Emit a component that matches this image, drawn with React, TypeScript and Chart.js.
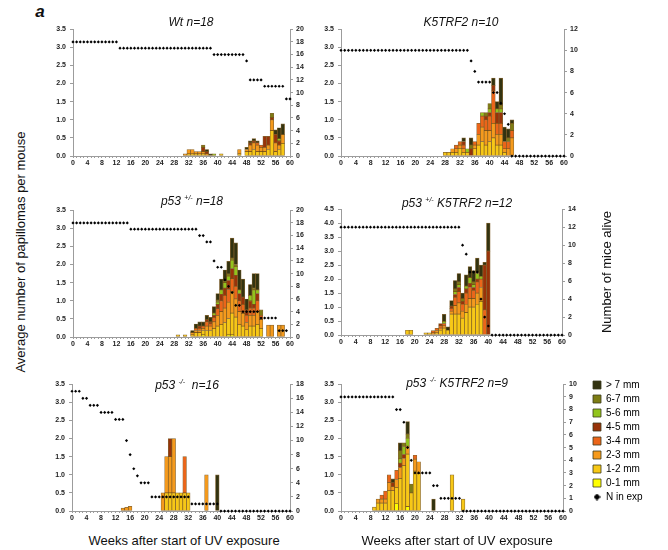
import React, { useEffect, useRef } from "react";
import { Chart, registerables } from "chart.js";

Chart.register(...registerables);
Chart.defaults.font.family = "Arial, 'Liberation Sans', sans-serif";

// ---------- shared categories ----------
const SIZE_CLASSES = ["0-1 mm", "1-2 mm", "2-3 mm", "3-4 mm", "4-5 mm", "5-6 mm", "6-7 mm", "> 7 mm"];
const SIZE_COLORS = ["#ffff00", "#f7c816", "#f59a1c", "#ec6519", "#983309", "#92c41c", "#7d7d14", "#333310"];
const ALIVE_LABEL = "N in exp";
const X_TICK_LABELS = [0, 4, 8, 12, 16, 20, 24, 28, 32, 36, 40, 44, 48, 52, 56, 60];

// ---------- Wt n=18 ----------
// [week, 0-1, 1-2, 2-3, 3-4, 4-5, 5-6, 6-7, >7]
const WT_BARS = [
  [31, 0, 0, 0.06, 0, 0, 0, 0, 0],
  [32, 0, 0.06, 0.12, 0, 0, 0, 0, 0],
  [33, 0, 0.06, 0.12, 0, 0, 0, 0, 0],
  [34, 0, 0.06, 0.06, 0, 0, 0, 0, 0],
  [35, 0, 0.06, 0.06, 0, 0, 0, 0, 0],
  [36, 0, 0.06, 0.06, 0, 0.12, 0, 0.06, 0],
  [37, 0, 0, 0.06, 0, 0.06, 0, 0, 0.06],
  [38, 0, 0, 0, 0, 0, 0, 0, 0.06],
  [39, 0, 0, 0, 0, 0, 0.06, 0, 0],
  [41, 0, 0.06, 0, 0, 0, 0, 0, 0],
  [46, 0, 0.06, 0.12, 0, 0, 0, 0, 0],
  [48, 0, 0.12, 0.06, 0, 0, 0, 0, 0.06],
  [49, 0, 0.12, 0.18, 0, 0.06, 0, 0, 0.06],
  [50, 0, 0.18, 0.18, 0, 0.06, 0, 0, 0.06],
  [51, 0, 0.12, 0.18, 0.06, 0, 0, 0, 0.06],
  [52, 0, 0.12, 0.12, 0.06, 0, 0, 0, 0],
  [53, 0, 0.12, 0.12, 0, 0.3, 0, 0, 0],
  [54, 0, 0.18, 0.12, 0, 0.24, 0, 0, 0],
  [55, 0, 0.7, 0.3, 0, 0.06, 0, 0.12, 0],
  [56, 0, 0.12, 0.24, 0, 0.24, 0, 0, 0.12],
  [57, 0, 0.18, 0.12, 0, 0.12, 0.06, 0, 0.3],
  [58, 0, 0.35, 0.24, 0, 0, 0, 0, 0.3],
];
// mice alive, week 0 onwards
const WT_ALIVE = [
  18, 18, 18, 18, 18, 18, 18, 18, 18, 18, 18, 18, 18,
  17, 17, 17, 17, 17, 17, 17, 17, 17, 17, 17, 17, 17, 17, 17, 17, 17, 17, 17, 17, 17, 17, 17, 17, 17, 17,
  16, 16, 16, 16, 16, 16, 16, 16, 16,
  15, 12, 12, 12, 12, 11, 11, 11, 11, 11, 11, 9, 9,
];

// ---------- K5TRF2 n=10 ----------
const K5_BARS = [
  [28, 0, 0.1, 0, 0, 0, 0, 0, 0],
  [29, 0, 0.1, 0, 0, 0, 0, 0, 0],
  [30, 0, 0.1, 0.1, 0, 0, 0, 0, 0],
  [31, 0, 0.1, 0.1, 0.1, 0, 0, 0, 0],
  [32, 0, 0.2, 0.1, 0.1, 0, 0, 0, 0],
  [33, 0, 0.1, 0.1, 0.1, 0.1, 0, 0, 0.1],
  [34, 0, 0.1, 0, 0, 0, 0.1, 0, 0],
  [35, 0, 0, 0, 0, 0.2, 0, 0.1, 0.2],
  [36, 0, 0.2, 0.1, 0.1, 0, 0, 0, 0],
  [37, 0, 0.3, 0.3, 0.3, 0, 0, 0, 0],
  [38, 0, 0.4, 0.4, 0.3, 0, 0.1, 0, 0],
  [39, 0, 0.3, 0.4, 0.3, 0.1, 0, 0.1, 0],
  [40, 0, 0.4, 0.3, 0.4, 0.1, 0.1, 0.15, 0],
  [41, 0, 0.5, 0.4, 0.9, 0.15, 0, 0, 0.2],
  [42, 0, 0.3, 0.3, 0.3, 0.3, 0.1, 0, 0.2],
  [43, 0, 0.3, 0.3, 0.3, 0.3, 0.1, 0.1, 0.75],
  [44, 0, 0.1, 0.1, 0.2, 0, 0, 0, 0.4],
  [45, 0, 0, 0.2, 0.2, 0, 0, 0.1, 0.25],
  [46, 0, 0, 0.5, 0.2, 0, 0, 0.2, 0.1],
];
const K5_ALIVE = [
  10, 10, 10, 10, 10, 10, 10, 10, 10, 10, 10, 10, 10, 10, 10, 10, 10, 10, 10, 10,
  10, 10, 10, 10, 10, 10, 10, 10, 10, 10, 10, 10, 10, 10, 10,
  9, 8, 7, 7, 7, 7, 6, 6, 5, 4, 3,
  0, 0, 0, 0, 0, 0, 0, 0, 0, 0, 0, 0, 0, 0, 0,
];

// ---------- p53 +/- n=18 ----------
const P53HET_BARS = [
  [29, 0, 0.06, 0, 0, 0, 0, 0, 0],
  [31, 0, 0.06, 0, 0, 0, 0, 0, 0],
  [33, 0, 0.06, 0.06, 0, 0, 0, 0, 0.06],
  [34, 0, 0.12, 0.06, 0.06, 0, 0, 0, 0.12],
  [35, 0, 0.12, 0.06, 0.06, 0.06, 0, 0, 0.12],
  [36, 0.06, 0.12, 0.06, 0.06, 0, 0, 0, 0.12],
  [37, 0, 0.18, 0.12, 0.12, 0.06, 0, 0, 0.12],
  [38, 0, 0.18, 0.12, 0.06, 0.06, 0, 0, 0.12],
  [39, 0, 0.24, 0.18, 0.12, 0.06, 0.06, 0, 0.18],
  [40, 0, 0.3, 0.3, 0.18, 0.12, 0.06, 0.06, 0.18],
  [41, 0, 0.35, 0.35, 0.3, 0.18, 0.12, 0, 0.3],
  [42, 0, 0.4, 0.4, 0.35, 0.2, 0.15, 0.05, 0.3],
  [43, 0.06, 0.45, 0.45, 0.35, 0.25, 0.12, 0.06, 0.35],
  [44, 0.06, 0.6, 0.6, 0.35, 0.28, 0.23, 0.06, 0.55],
  [45, 0, 0.55, 0.5, 0.35, 0.3, 0.25, 0.05, 0.6],
  [46, 0, 0.35, 0.35, 0.3, 0.2, 0.1, 0, 0.55],
  [47, 0, 0.3, 0.35, 0.25, 0.2, 0, 0, 0.5],
  [48, 0, 0.2, 0.2, 0.2, 0.15, 0, 0, 0.3],
  [49, 0, 0.3, 0.3, 0.2, 0.2, 0.15, 0, 0.3],
  [50, 0, 0.3, 0.3, 0.2, 0.1, 0.4, 0.05, 0.4],
  [51, 0, 0.35, 0.35, 0.3, 0.2, 0.1, 0, 0.45],
  [52, 0, 0.24, 0.24, 0.12, 0, 0, 0.15, 0],
  [54, 0, 0, 0.33, 0, 0, 0, 0, 0],
  [55, 0, 0, 0.33, 0, 0, 0, 0, 0],
  [57, 0, 0, 0.33, 0, 0, 0, 0, 0],
  [58, 0, 0, 0.33, 0, 0, 0, 0, 0],
];
const P53HET_ALIVE = [
  18, 18, 18, 18, 18, 18, 18, 18, 18, 18, 18, 18, 18, 18, 18, 18,
  17, 17, 17, 17, 17, 17, 17, 17, 17, 17, 17, 17, 17, 17, 17, 17, 17, 17, 17,
  16, 16, 15, 15, 12, 11, 11, 9, 8, 7, 5, 5,
  4, 4, 4, 4, 4, 3, 3, 3, 3, 3, 1, 1, 1,
];

// ---------- p53 +/- K5TRF2 n=12 ----------
const P53HET_K5_BARS = [
  [18, 0, 0.17, 0, 0, 0, 0, 0, 0],
  [19, 0, 0.17, 0, 0, 0, 0, 0, 0],
  [23, 0, 0.08, 0, 0, 0, 0, 0, 0],
  [24, 0, 0.08, 0, 0, 0, 0, 0, 0],
  [25, 0, 0, 0.08, 0.08, 0, 0, 0, 0],
  [26, 0, 0.08, 0.08, 0.08, 0, 0, 0, 0],
  [27, 0, 0.17, 0.08, 0.08, 0.08, 0, 0, 0],
  [28, 0, 0.25, 0.08, 0.08, 0, 0.08, 0, 0.25],
  [29, 0, 0.17, 0, 0, 0, 0, 0, 0.12],
  [30, 0, 0.75, 0.1, 0.1, 0.08, 0, 0, 0.2],
  [31, 0, 0.75, 0.3, 0.3, 0.1, 0.1, 0.1, 0.3],
  [32, 0, 0.75, 0.4, 0.4, 0.15, 0.1, 0.1, 0.3],
  [33, 0, 0.6, 0.25, 0.25, 0.1, 0, 0.1, 0.2],
  [34, 0, 0.8, 0.3, 0.4, 0.15, 0.1, 0, 0.4],
  [35, 0, 1.0, 0.3, 0.4, 0.15, 0.2, 0, 0.4],
  [36, 0, 1.0, 0.3, 0.3, 0.1, 0.1, 0.1, 0.4],
  [37, 0, 1.1, 0.4, 0.4, 0.1, 0.2, 0.05, 0.5],
  [38, 0, 1.2, 0.5, 0.3, 0, 0.1, 0, 0.4],
  [39, 0, 0, 0, 0.9, 1.6, 0, 0, 0.1],
  [40, 0, 0, 0, 0, 3.0, 0, 0, 1.0],
];
const P53HET_K5_ALIVE = [
  12, 12, 12, 12, 12, 12, 12, 12, 12, 12, 12, 12, 12, 12, 12, 12, 12,
  12, 12, 12, 12, 12, 12, 12, 12, 12, 12, 12, 12, 12, 12, 12, 12,
  10, 9, 7, 7, 7, 4, 2, 1,
  0, 0, 0, 0, 0, 0, 0, 0, 0, 0, 0, 0, 0, 0, 0, 0, 0, 0, 0, 0,
];

// ---------- p53 -/- n=16 ----------
const P53NULL_BARS = [
  [14, 0, 0, 0.08, 0, 0, 0, 0, 0],
  [15, 0, 0, 0.1, 0, 0, 0, 0, 0],
  [16, 0, 0, 0.13, 0, 0, 0, 0, 0],
  [25, 0, 0, 0.5, 0, 0, 0, 0, 0],
  [26, 0, 0.5, 1.0, 0, 0, 0, 0, 0],
  [27, 0, 0.5, 1.0, 0, 0.5, 0, 0, 0],
  [28, 0, 0.5, 1.5, 0, 0, 0, 0, 0],
  [29, 0, 0.5, 0, 0, 0, 0, 0, 0],
  [30, 0, 0.5, 0, 0, 0, 0, 0, 0],
  [31, 0, 0.5, 0, 1.0, 0, 0, 0, 0],
  [32, 0, 0.5, 0, 0, 0, 0, 0, 0],
  [37, 0, 0, 1.0, 0, 0, 0, 0, 0],
  [40, 0, 0, 0, 0, 0, 0, 0, 1.0],
];
const P53NULL_ALIVE = [
  17, 17, 17, 16, 16, 15, 15, 15, 14, 14, 14, 14, 13, 13, 13,
  10, 8, 6, 5, 4, 4, 4,
  2, 2, 2, 2, 2, 2, 2, 2, 2, 2, 2,
  1, 1, 1, 1, 1, 1, 1, 1,
  0, 0, 0, 0, 0, 0, 0, 0, 0, 0, 0, 0, 0, 0, 0, 0, 0, 0, 0, 0,
];

// ---------- p53 -/- K5TRF2 n=9 ----------
const P53NULL_K5_BARS = [
  [9, 0, 0.11, 0, 0, 0, 0, 0, 0],
  [10, 0, 0.22, 0.11, 0, 0, 0, 0, 0],
  [11, 0, 0.22, 0.11, 0.11, 0, 0, 0, 0],
  [12, 0, 0.22, 0.11, 0.22, 0, 0, 0, 0],
  [13, 0, 0.56, 0.22, 0.22, 0, 0, 0, 0],
  [14, 0, 0.56, 0.11, 0, 0.11, 0, 0, 0.11],
  [15, 0.2, 0.45, 0.22, 0.25, 0, 0, 0, 0],
  [16, 0, 0.9, 0.3, 0, 0.12, 0.12, 0.22, 0.22],
  [17, 0, 1.25, 0.2, 0, 0.11, 0.22, 0.1, 0],
  [18, 0.12, 1.45, 0.22, 0, 0, 0.22, 0.11, 0.35],
  [19, 0, 0.5, 0, 0, 0, 0, 0.24, 0],
  [20, 0, 1.1, 0.33, 0.11, 0, 0, 0, 0],
  [21, 0, 1.03, 0.33, 0, 0, 0, 0, 0],
  [25, 0, 0, 0, 0, 0, 0, 0, 0.33],
  [30, 0, 1.0, 0, 0, 0, 0, 0, 0],
  [33, 0, 0.33, 0, 0, 0, 0, 0, 0],
];
const P53NULL_K5_ALIVE = [
  9, 9, 9, 9, 9, 9, 9, 9, 9, 9, 9, 9, 9, 9, 9,
  8, 8, 7, 5, 4, 3, 3, 3, 3, 3, 2, 2,
  1, 1, 1, 1, 1, 1,
  0, 0, 0, 0, 0, 0, 0, 0, 0, 0, 0, 0, 0, 0, 0, 0, 0, 0, 0, 0, 0, 0, 0, 0, 0, 0, 0, 0,
];

// ---------- layout / style (not data) ----------
type Area = { l: number; r: number; t: number; b: number };
type PanelCfg = {
  bars: number[][];
  alive: number[];
  yMax: number;
  nMax: number;
  nStep: number;
  area: Area;
};

const PANELS: PanelCfg[] = [
  { bars: WT_BARS, alive: WT_ALIVE, yMax: 3.5, nMax: 20, nStep: 2, area: { l: 73, r: 290, t: 29, b: 156 } },
  { bars: K5_BARS, alive: K5_ALIVE, yMax: 3.5, nMax: 12, nStep: 1, area: { l: 341, r: 564, t: 29, b: 156 } },
  { bars: P53HET_BARS, alive: P53HET_ALIVE, yMax: 3.5, nMax: 20, nStep: 2, area: { l: 73, r: 290, t: 210, b: 337 } },
  { bars: P53HET_K5_BARS, alive: P53HET_K5_ALIVE, yMax: 4.5, nMax: 14, nStep: 1, area: { l: 341, r: 562, t: 209, b: 335 } },
  { bars: P53NULL_BARS, alive: P53NULL_ALIVE, yMax: 3.5, nMax: 18, nStep: 2, area: { l: 72, r: 290, t: 384, b: 511 } },
  { bars: P53NULL_K5_BARS, alive: P53NULL_K5_ALIVE, yMax: 3.5, nMax: 10, nStep: 1, area: { l: 341, r: 563, t: 384, b: 511 } },
];

const PAD_L = 36;
const PAD_R = 26;
const PAD_T = 8;
const PAD_B = 16;
const AXIS_COLOR = "#9c9c9c";
const TICK_COLOR = "#222";
const BAR_EDGE = "rgba(105,65,0,0.8)";
const TICK_FONT = { size: 7, weight: "bold" as const };
const FONT = "Arial, 'Liberation Sans', sans-serif";

function PanelChart({ panel }: { panel: PanelCfg }) {
  const ref = useRef<HTMLCanvasElement | null>(null);
  const { l, r, t, b } = panel.area;
  const width = r - l + PAD_L + PAD_R;
  const height = b - t + PAD_T + PAD_B;

  useEffect(() => {
    const canvas = ref.current;
    if (!canvas) return;
    const barSets: any[] = SIZE_CLASSES.map((label, k) => ({
      type: "bar",
      label,
      data: panel.bars.filter((row) => row[k + 1] > 0).map((row) => ({ x: row[0], y: row[k + 1] })),
      backgroundColor: SIZE_COLORS[k],
      borderColor: BAR_EDGE,
      borderWidth: 0.7,
      borderSkipped: false,
      barPercentage: 1,
      categoryPercentage: 1,
      xAxisID: "x",
      yAxisID: "y",
      stack: "mm",
      order: 1,
    }));
    const aliveSet: any = {
      type: "line",
      label: ALIVE_LABEL,
      data: panel.alive.map((n, w) => ({ x: w, y: n })),
      showLine: false,
      pointStyle: "rectRot",
      pointRadius: 1.6,
      pointBackgroundColor: "#000",
      pointBorderColor: "#000",
      pointBorderWidth: 0,
      borderColor: "#000",
      xAxisID: "x",
      yAxisID: "y1",
      order: 0,
      clip: false,
    };
    const chart = new Chart(canvas, {
      type: "bar",
      data: { datasets: [...barSets, aliveSet] },
      options: {
        responsive: false,
        animation: false,
        events: [],
        layout: { padding: { top: PAD_T, left: 0, right: 0, bottom: 0 } },
        plugins: { legend: { display: false }, tooltip: { enabled: false } },
        scales: {
          x: {
            type: "linear",
            min: 0,
            max: 60,
            offset: false,
            stacked: true,
            ticks: {
              stepSize: 1,
              autoSkip: false,
              maxRotation: 0,
              padding: 1,
              color: TICK_COLOR,
              font: TICK_FONT,
              callback: (v: any) => (X_TICK_LABELS.includes(Number(v)) ? String(v) : ""),
            },
            grid: { display: true, drawOnChartArea: false, tickLength: 2, color: AXIS_COLOR, offset: false },
            border: { color: AXIS_COLOR, width: 1 },
            afterFit: (s: any) => {
              s.height = PAD_B;
            },
          },
          y: {
            type: "linear",
            position: "left",
            min: 0,
            max: panel.yMax,
            stacked: true,
            ticks: {
              stepSize: 0.5,
              padding: 4,
              color: TICK_COLOR,
              font: TICK_FONT,
              callback: (v: any) => Number(v).toFixed(1),
            },
            grid: { display: true, drawOnChartArea: false, tickLength: 3, color: AXIS_COLOR },
            border: { color: AXIS_COLOR, width: 1 },
            afterFit: (s: any) => {
              s.width = PAD_L;
            },
          },
          y1: {
            type: "linear",
            position: "right",
            min: 0,
            max: panel.nMax,
            ticks: {
              stepSize: panel.nStep,
              padding: 3,
              color: TICK_COLOR,
              font: TICK_FONT,
            },
            grid: { display: true, drawOnChartArea: false, tickLength: 3, color: AXIS_COLOR },
            border: { color: AXIS_COLOR, width: 1 },
            afterFit: (s: any) => {
              s.width = PAD_R;
            },
          },
        },
      } as any,
    });
    return () => chart.destroy();
  }, [panel]);

  return (
    <canvas
      ref={ref}
      width={width}
      height={height}
      style={{ position: "absolute", left: l - PAD_L, top: t - PAD_T, width, height }}
    />
  );
}

const LEGEND_W = 79;

function LegendChart() {
  const ref = useRef<HTMLCanvasElement | null>(null);
  useEffect(() => {
    const canvas = ref.current;
    if (!canvas) return;
    const diamond = document.createElement("canvas");
    diamond.width = 7;
    diamond.height = 7;
    const dc = diamond.getContext("2d");
    if (dc) {
      dc.fillStyle = "#000";
      dc.beginPath();
      dc.moveTo(3.5, 0);
      dc.lineTo(7, 3.5);
      dc.lineTo(3.5, 7);
      dc.lineTo(0, 3.5);
      dc.closePath();
      dc.fill();
    }
    const items: any[] = SIZE_CLASSES.map((text, k) => ({
      text,
      fillStyle: SIZE_COLORS[k],
      strokeStyle: "#3a3a20",
      lineWidth: 0.8,
      pointStyle: "rect",
      hidden: false,
      datasetIndex: k,
    })).reverse();
    items.push({ text: ALIVE_LABEL, fillStyle: "#000", strokeStyle: "#000", lineWidth: 0, pointStyle: diamond, hidden: false });
    const chart = new Chart(canvas, {
      type: "bar",
      data: {
        labels: [],
        datasets: SIZE_CLASSES.map((label, k) => ({ label, data: [], backgroundColor: SIZE_COLORS[k] })),
      },
      options: {
        responsive: false,
        animation: false,
        events: [],
        layout: { padding: 0 },
        scales: { x: { display: false }, y: { display: false } },
        plugins: {
          tooltip: { enabled: false },
          legend: {
            position: "left",
            align: "start",
            maxWidth: LEGEND_W,
            labels: {
              usePointStyle: true,
              boxWidth: 8,
              boxHeight: 8,
              padding: 4,
              color: "#111",
              font: { size: 10 },
              generateLabels: () => items,
            },
          },
        },
      } as any,
    });
    return () => chart.destroy();
  }, []);
  return (
    <canvas
      ref={ref}
      width={LEGEND_W}
      height={140}
      style={{ position: "absolute", left: 589, top: 376, width: LEGEND_W, height: 140 }}
    />
  );
}

const txt = (extra: React.CSSProperties): React.CSSProperties => ({
  position: "absolute",
  whiteSpace: "nowrap",
  fontFamily: FONT,
  color: "#111",
  lineHeight: 1,
  transform: "translate(-50%, -50%)",
  ...extra,
});

const Sup = ({ children }: { children: React.ReactNode }) => (
  <span style={{ fontSize: 7, position: "relative", top: -5 }}>{children}</span>
);

const TITLE: React.CSSProperties = { fontSize: 12, fontStyle: "italic" };

export default function App() {
  return (
    <div style={{ position: "absolute", left: 0, top: 0, width: 668, height: 550, background: "#fff", overflow: "hidden" }}>
      {PANELS.map((p, i) => (
        <PanelChart key={i} panel={p} />
      ))}
      <LegendChart />
      <div style={txt({ left: 40, top: 11, fontSize: 17, fontWeight: "bold", fontStyle: "italic" })}>a</div>
      <div style={txt({ left: 191, top: 22, ...TITLE })}>Wt n=18</div>
      <div style={txt({ left: 461, top: 22, ...TITLE })}>K5TRF2 n=10</div>
      <div style={txt({ left: 192, top: 201, ...TITLE })}>
        p53 <Sup>+/-</Sup> n=18
      </div>
      <div style={txt({ left: 457, top: 203, ...TITLE })}>
        p53 <Sup>+/-</Sup> K5TRF2 n=12
      </div>
      <div style={txt({ left: 187, top: 385, ...TITLE })}>
        p53 <Sup>-/-</Sup>&nbsp; n=16
      </div>
      <div style={txt({ left: 457, top: 383, ...TITLE })}>
        p53 <Sup>-/-</Sup> K5TRF2 n=9
      </div>
      <div style={txt({ left: 20, top: 252, fontSize: 13, transform: "translate(-50%, -50%) rotate(-90deg)" })}>
        Average number of papillomas per mouse
      </div>
      <div style={txt({ left: 606, top: 272, fontSize: 13, transform: "translate(-50%, -50%) rotate(-90deg)" })}>
        Number of mice alive
      </div>
      <div style={txt({ left: 184, top: 540, fontSize: 13 })}>Weeks after start of UV exposure</div>
      <div style={txt({ left: 457, top: 540, fontSize: 13 })}>Weeks after start of UV exposure</div>
    </div>
  );
}
